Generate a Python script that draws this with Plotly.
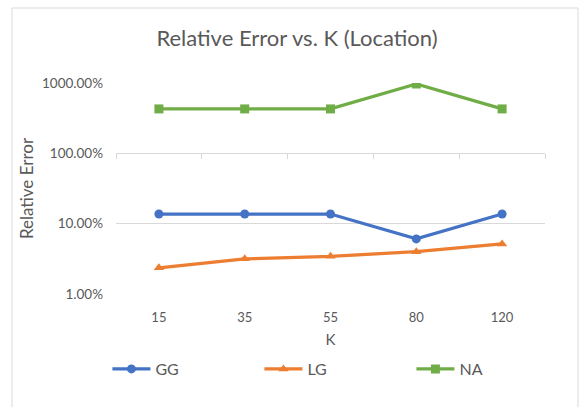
import plotly.graph_objects as go

k_values = ["15", "35", "55", "80", "120"]
gg = [0.137, 0.137, 0.137, 0.0607, 0.137]
lg = [0.0236, 0.0316, 0.0343, 0.0400, 0.0515]
na = [4.28, 4.28, 4.28, 9.68, 4.28]
y_tickvals = [0.01, 0.1, 1, 10]
y_ticktext = ["1.00%", "10.00%", "100.00%", "1000.00%"]

FONT = "Lato, Carlito, Liberation Sans, sans-serif"
GRAY = "#595959"

fig = go.Figure()
series = [
    ("GG", gg, "#4472C4", "circle", 9),
    ("LG", lg, "#ED7D31", "triangle-up", 9),
    ("NA", na, "#70AD47", "square", 9),
]
for name, vals, col, sym, sz in series:
    fig.add_trace(go.Scatter(
        x=k_values, y=vals, name=name, mode="lines+markers",
        line=dict(color=col, width=3.25),
        marker=dict(symbol=sym, size=sz, color=col),
    ))

fig.update_layout(
    width=582, height=407,
    margin=dict(l=116, r=37, t=83, b=113),
    paper_bgcolor="white", plot_bgcolor="white",
    font=dict(family=FONT, color=GRAY, size=13),
    title=dict(text="Relative Error vs. K (Location)", x=(297 - 116) / 429, xanchor="center",
               xref="paper", y=1 - 38 / 407, yanchor="middle",
               font=dict(size=22, color=GRAY, family=FONT)),
    showlegend=True,
    legend=dict(orientation="h", x=-0.02, xanchor="left", y=(294 - 369) / 211, yanchor="middle",
                entrywidth=99, entrywidthmode="pixels",
                font=dict(size=16, color=GRAY, family=FONT),
                itemwidth=38, bgcolor="rgba(0,0,0,0)"),
    xaxis=dict(type="category", range=[-0.5, 4.5], showgrid=False, showline=False,
               ticks="", tickfont=dict(size=13, color=GRAY), ticklabelstandoff=14,
               title=dict(text="K", font=dict(size=15, color=GRAY), standoff=10),
               zeroline=False, automargin=False),
    xaxis2=dict(overlaying="x", anchor="free", position=2 / 3, range=[-0.5, 4.5],
                tickmode="array", tickvals=[-0.5, 0.5, 1.5, 2.5, 3.5, 4.5],
                showticklabels=False, ticks="outside", ticklen=5, tickcolor="#d9d9d9",
                showline=True, linecolor="#d9d9d9", linewidth=1, showgrid=False,
                zeroline=False, automargin=False),
    yaxis=dict(type="log", range=[-2, 1], tickmode="array", tickvals=y_tickvals,
               ticktext=y_ticktext, showgrid=True, gridcolor="#d9d9d9", gridwidth=1,
               showline=False, ticks="", ticklabelstandoff=12,
               tickfont=dict(size=13.5, color=GRAY),
               title=dict(text="Relative Error", font=dict(size=17, color=GRAY), standoff=4),
               zeroline=False, automargin=False),
)
fig.add_trace(go.Scatter(x=[], y=[], xaxis="x2", showlegend=False, hoverinfo="skip"))

fig.add_shape(type="rect", xref="paper", yref="paper",
              x0=(12 - 116) / 429, x1=(578 - 116) / 429,
              y0=(294 - 420) / 211, y1=(294 - 8) / 211,
              line=dict(color="#d9d9d9", width=1), fillcolor="rgba(0,0,0,0)", layer="below")

fig.write_html("out.html", post_script="document.body.style.margin='0';",
               config={"displayModeBar": False})
